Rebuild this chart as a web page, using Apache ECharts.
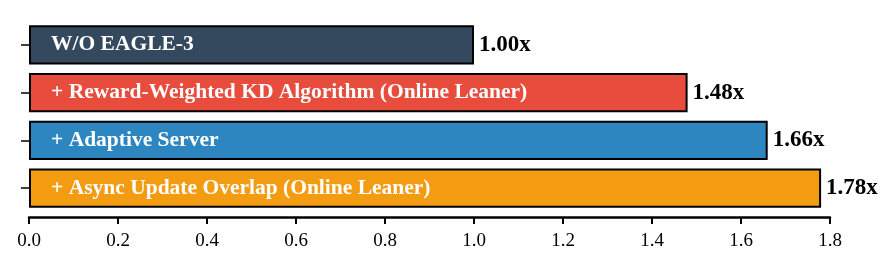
<!DOCTYPE html>
<html><head><meta charset="utf-8">
<script src="https://cdn.jsdelivr.net/npm/echarts@6/dist/echarts.min.js"></script>
<style>html,body{margin:0;padding:0;background:#fff}#c{width:896px;height:268px}</style>
</head><body><div id="c"></div>
<script>
const categories = ["W/O EAGLE-3", "+ Reward-Weighted KD Algorithm (Online Leaner)", "+ Adaptive Server", "+ Async Update Overlap (Online Leaner)"];
const speedups = [1.00, 1.48, 1.66, 1.78];
const barColors = ["#34495e", "#e74c3c", "#2e86c1", "#f39c12"];
const xTicks = [0.0, 0.2, 0.4, 0.6, 0.8, 1.0, 1.2, 1.4, 1.6, 1.8];

const font = "'Liberation Serif','Times New Roman',serif";
const chart = echarts.init(document.getElementById('c'), null, {renderer: 'canvas'});
chart.setOption({
  animation: false,
  grid: {left: 29, right: 66, top: 21, bottom: 56, containLabel: false},
  xAxis: {
    type: 'value', min: xTicks[0], max: xTicks[xTicks.length - 1], interval: 0.2,
    offset: 5,
    axisLine: {show: true, lineStyle: {color: '#000', width: 2.5}},
    axisTick: {show: true, length: 7, lineStyle: {color: '#000', width: 2}},
    splitLine: {show: false},
    axisLabel: {color: '#000', fontFamily: font, fontSize: 19, margin: 15,
      formatter: v => v.toFixed(1)}
  },
  yAxis: {
    type: 'category', data: categories, inverse: true,
    axisLine: {show: false},
    axisTick: {show: true, alignWithLabel: true, length: 8, lineStyle: {color: '#000', width: 1.5}},
    axisLabel: {show: false}
  },
  series: [{
    type: 'bar',
    barCategoryGap: '18%',
    data: speedups.map((v, i) => ({
      value: v,
      itemStyle: {color: barColors[i], borderColor: '#000', borderWidth: 2}
    }))
  }, {
    type: 'bar', barGap: '-100%', barCategoryGap: '18%',
    data: speedups,
    itemStyle: {color: 'transparent'},
    silent: true,
    label: {
      show: true, position: 'insideLeft', distance: 22,
      color: '#fff', fontFamily: font, fontWeight: 'bold', fontSize: 21.5,
      formatter: p => categories[p.dataIndex]
    }
  }, {
    type: 'bar', barGap: '-100%', barCategoryGap: '18%',
    data: speedups,
    itemStyle: {color: 'transparent'},
    silent: true,
    label: {
      show: true, position: 'right', distance: 5,
      color: '#000', fontFamily: font, fontWeight: 'bold', fontSize: 23,
      formatter: p => p.value.toFixed(2) + 'x'
    }
  }]
});
</script></body></html>
